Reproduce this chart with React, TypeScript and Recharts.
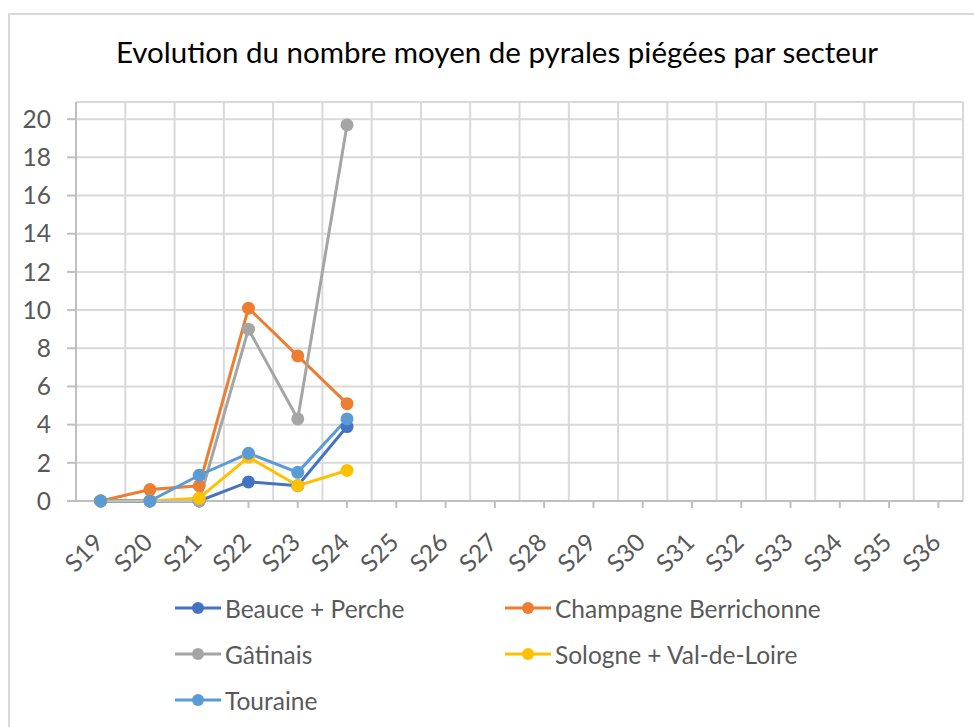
import React from 'react';
import { LineChart, Line, XAxis, YAxis, CartesianGrid } from 'recharts';

const weeks = ['S19', 'S20', 'S21', 'S22', 'S23', 'S24', 'S25', 'S26', 'S27', 'S28', 'S29', 'S30', 'S31', 'S32', 'S33', 'S34', 'S35', 'S36'];

const beauce = [0, 0, 0, 1.0, 0.8, 3.9];
const champagne = [0, 0.6, 0.8, 10.1, 7.6, 5.1];
const gatinais = [0, 0, 0, 9.0, 4.3, 19.7];
const sologne = [0, 0, 0.15, 2.3, 0.8, 1.6];
const touraine = [0, 0, 1.35, 2.5, 1.5, 4.3];

const yTicks = [0, 2, 4, 6, 8, 10, 12, 14, 16, 18, 20];

const series = [
    { key: 'beauce', name: 'Beauce + Perche', color: '#4472C4', values: beauce },
    { key: 'champagne', name: 'Champagne Berrichonne', color: '#ED7D31', values: champagne },
    { key: 'gatinais', name: 'Gâtinais', color: '#A5A5A5', values: gatinais },
    { key: 'sologne', name: 'Sologne + Val-de-Loire', color: '#FFC000', values: sologne },
    { key: 'touraine', name: 'Touraine', color: '#5B9BD5', values: touraine },
];

const data = weeks.map((w, i) => {
    const row: Record<string, number | string | undefined> = { idx: i, week: w };
    series.forEach((s) => {
        row[s.key] = s.values[i];
    });
    return row;
});

const FONT = 'Lato, "Open Sans", sans-serif';

function XTick(props: any) {
    const { x, y, payload } = props;
    const ax = x - 2;
    const ay = y + 26;
    return (
        <text
            x={ax}
            y={ay}
            transform={`rotate(-45, ${ax}, ${ay})`}
            textAnchor="end"
            dy="0.35em"
            fill="#595959"
            fontSize={24.5}
            fontFamily={FONT}
        >
            {weeks[payload.value]}
        </text>
    );
}

function LegendItem({ name, color }: { name: string; color: string }) {
    return (
        <div style={{ display: 'flex', alignItems: 'center', height: 46 }}>
            <svg width={50} height={20} style={{ marginRight: 2 }}>
                <line x1={2} y1={10} x2={48} y2={10} stroke={color} strokeWidth={3} />
                <circle cx={25} cy={10} r={6} fill={color} />
            </svg>
            <span>{name}</span>
        </div>
    );
}

export default function App() {
    return (
        <div style={{ position: 'relative', width: 974, height: 727, overflow: 'hidden', fontFamily: FONT }}>
            <style>{`body{margin:0;overflow:hidden;background:#fff}`}</style>
            <div
                style={{
                    position: 'absolute',
                    left: 8,
                    top: 13,
                    width: 1000,
                    height: 760,
                    border: '2px solid #D9D9D9',
                    boxSizing: 'border-box',
                }}
            />
            <div
                style={{
                    position: 'absolute',
                    left: 0,
                    width: 994,
                    top: 34,
                    textAlign: 'center',
                    fontSize: 29.5,
                    color: '#000',
                }}
            >
                Evolution du nombre moyen de pyrales piégées par secteur
            </div>
            <div style={{ position: 'absolute', left: 0, top: 0 }}>
                <LineChart width={974} height={727} data={data} margin={{ top: 102, right: 11, left: 0, bottom: 0 }}>
                    <CartesianGrid
                        stroke="#D9D9D9"
                        strokeWidth={2}
                        verticalCoordinatesGenerator={({ offset }: any) =>
                            weeks.concat('end').map((_, i) => offset.left + (i * offset.width) / weeks.length)
                        }
                    />
                    <XAxis
                        type="number"
                        dataKey="idx"
                        domain={[-0.5, weeks.length - 0.5]}
                        ticks={weeks.map((_, i) => i)}
                        interval={0}
                        height={226}
                        stroke="#BFBFBF"
                        strokeWidth={2}
                        tickSize={7}
                        tickMargin={4}
                        tick={<XTick />}
                    />
                    <YAxis
                        domain={[0, 20.9]}
                        ticks={yTicks}
                        width={76}
                        stroke="#BFBFBF"
                        strokeWidth={2}
                        tickSize={9}
                        tickMargin={16}
                        tick={{ fill: '#595959', fontSize: 24.5, fontFamily: FONT }}
                    />
                    {series.map((s) => (
                        <Line
                            key={s.key}
                            type="linear"
                            dataKey={s.key}
                            name={s.name}
                            stroke={s.color}
                            strokeWidth={3}
                            dot={{ r: 6.5, fill: s.color, stroke: s.color, strokeWidth: 0 }}
                            activeDot={false}
                            isAnimationActive={false}
                        />
                    ))}
                </LineChart>
            </div>
            <div style={{ position: 'absolute', left: 173, top: 585, fontSize: 24.5, color: '#595959' }}>
                <div style={{ display: 'grid', gridTemplateColumns: '330px 330px' }}>
                    {series.map((s) => (
                        <LegendItem key={s.key} name={s.name} color={s.color} />
                    ))}
                </div>
            </div>
        </div>
    );
}
